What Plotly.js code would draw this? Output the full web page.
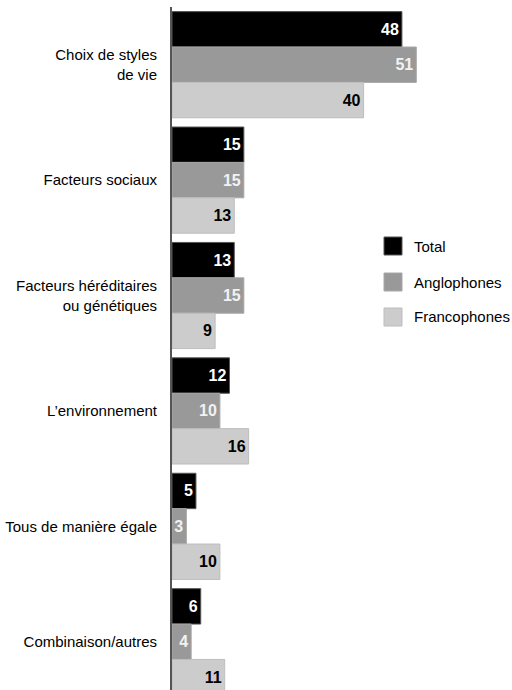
<!DOCTYPE html>
<html>
<head>
<meta charset="utf-8">
<script src="https://cdn.plot.ly/plotly-3.0.1.min.js"></script>
<style>html,body{margin:0;padding:0;background:#fff;}#chart{width:512px;height:690px;}</style>
</head>
<body>
<div id="chart"></div>
<script>
const categories = ["Choix de styles<br>de vie", "Facteurs sociaux", "Facteurs héréditaires<br>ou génétiques", "L’environnement", "Tous de manière égale", "Combinaison/autres"];
const seriesNames = ["Total", "Anglophones", "Francophones"];
const total = [48, 15, 13, 12, 5, 6];
const anglophones = [51, 15, 15, 10, 3, 4];
const francophones = [40, 13, 9, 16, 10, 11];

const FONT = "'Liberation Sans', Arial, sans-serif";
const fills = ["#000000", "#999999", "#cccccc"];
const edges = ["#555555", "#a8a8a8", "#bdbdbd"];
const textColors = ["#ffffff", "#f2f2f2", "#000000"];
const values = [total, anglophones, francophones];

const traces = values.map((v, i) => ({
  type: 'bar',
  orientation: 'h',
  name: seriesNames[i],
  y: categories,
  x: v,
  text: v.map(String),
  textposition: 'inside',
  insidetextanchor: 'end',
  textangle: 0,
  constraintext: 'none',
  insidetextfont: {family: FONT, size: 16, color: textColors[i], weight: 'bold'},
  marker: {color: fills[i], line: {color: edges[i], width: 1}},
  cliponaxis: true,
  hoverinfo: 'none',
  showlegend: false
}));

// Legend drawn as swatches + labels (pixel positions converted to paper coords)
const W = 512, H = 690, ML = 172, MT = 7, MB = 0, MR = 0;
const pw = W - ML - MR, ph = H - MT - MB;
const px = x => (x - ML) / pw;
const py = y => (H - MB - y) / ph;
const legY = [246, 282, 317];
const shapes = [], annotations = [];
seriesNames.forEach((n, i) => {
  shapes.push({type: 'rect', xref: 'paper', yref: 'paper',
    x0: px(384), x1: px(402), y0: py(legY[i] - 9), y1: py(legY[i] + 9),
    fillcolor: fills[i], line: {color: edges[i], width: 1}});
  annotations.push({xref: 'paper', yref: 'paper', x: px(412), y: py(legY[i]),
    xanchor: 'left', yanchor: 'middle', showarrow: false, text: n,
    font: {family: FONT, size: 15, color: '#000'}});
});

const layout = {
  width: W, height: H,
  margin: {l: ML, r: MR, t: MT, b: MB, pad: 0},
  paper_bgcolor: '#fff', plot_bgcolor: '#fff',
  barmode: 'group', bargap: 0.08, bargroupgap: 0,
  showlegend: false,
  font: {family: FONT, size: 15, color: '#000'},
  xaxis: {range: [0, pw / 4.79], visible: false, fixedrange: true},
  yaxis: {type: 'category', range: [5.418, -0.5], showline: true, linecolor: '#555', linewidth: 2,
    ticks: '', showgrid: false, zeroline: false, ticklabelstandoff: 10,
    tickfont: {family: FONT, size: 15, color: '#000'}, fixedrange: true},
  shapes: shapes,
  annotations: annotations
};

Plotly.newPlot('chart', traces, layout, {displayModeBar: false, staticPlot: true});
</script>
</body>
</html>
